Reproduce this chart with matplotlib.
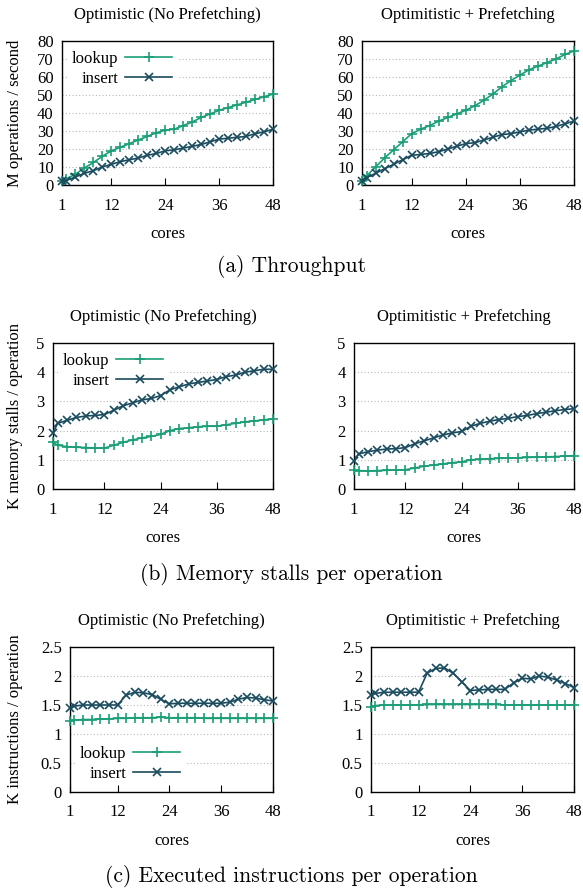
import matplotlib
matplotlib.use("Agg")
import matplotlib.pyplot as plt

cores = [1] + list(range(2, 49, 2))

thr_nopf_lookup = [2, 3.5, 6, 9.5, 12.5, 16, 19, 21, 23, 25, 27, 29, 30.5, 31, 33, 35,
                   37.5, 39.5, 41.5, 43, 44.5, 46, 47.5, 49, 50.5]
thr_nopf_insert = [2, 2.5, 4.5, 6.5, 8, 10, 11.5, 13, 14, 15, 16.5, 17.5, 19, 19.5, 20.5,
                   21.5, 22.5, 24, 25.5, 26, 26.5, 27, 28.5, 29.5, 31]
thr_pf_lookup = [2, 5, 10, 15, 19.5, 24, 28.5, 31, 33, 35.5, 37.5, 39.5, 41.5, 44, 47,
                 50.5, 54.5, 58, 61, 64, 66, 68, 70, 72.5, 74.5]
thr_pf_insert = [2.5, 4, 6.5, 9, 11.5, 14, 16.5, 17, 17.5, 18.5, 20, 21.5, 23, 23.5, 25,
                 26.5, 28, 28.5, 29.5, 30.5, 31, 31.5, 32.5, 34, 35.5]

st_nopf_lookup = [1.6, 1.5, 1.45, 1.43, 1.42, 1.4, 1.4, 1.5, 1.6, 1.68, 1.75, 1.8, 1.87,
                  2.0, 2.07, 2.1, 2.13, 2.15, 2.15, 2.2, 2.25, 2.3, 2.33, 2.37, 2.4]
st_nopf_insert = [1.93, 2.25, 2.35, 2.45, 2.5, 2.52, 2.55, 2.7, 2.85, 2.95, 3.05, 3.1, 3.2,
                  3.4, 3.5, 3.6, 3.65, 3.7, 3.75, 3.85, 3.9, 4.0, 4.05, 4.1, 4.1]
st_pf_lookup = [0.65, 0.63, 0.62, 0.63, 0.64, 0.65, 0.66, 0.72, 0.78, 0.82, 0.86, 0.9, 0.93,
                1.0, 1.02, 1.04, 1.05, 1.06, 1.07, 1.08, 1.09, 1.1, 1.11, 1.13, 1.14]
st_pf_insert = [0.95, 1.2, 1.28, 1.33, 1.37, 1.38, 1.42, 1.55, 1.65, 1.75, 1.85, 1.92, 1.97,
                2.15, 2.25, 2.32, 2.38, 2.42, 2.48, 2.52, 2.58, 2.63, 2.68, 2.72, 2.75]

in_nopf_lookup = [1.22, 1.24, 1.25, 1.25, 1.26, 1.26, 1.27, 1.27, 1.28, 1.28, 1.28, 1.29,
                  1.28, 1.28, 1.28, 1.28, 1.27, 1.27, 1.27, 1.27, 1.27, 1.27, 1.27, 1.27, 1.27]
in_nopf_insert = [1.45, 1.48, 1.5, 1.5, 1.5, 1.5, 1.5, 1.67, 1.72, 1.71, 1.68, 1.6, 1.52,
                  1.53, 1.53, 1.53, 1.53, 1.53, 1.53, 1.55, 1.6, 1.63, 1.62, 1.59, 1.57]
in_pf_lookup = [1.47, 1.49, 1.5, 1.5, 1.5, 1.5, 1.5, 1.51, 1.51, 1.51, 1.51, 1.51, 1.51,
                1.51, 1.51, 1.51, 1.5, 1.5, 1.5, 1.5, 1.5, 1.5, 1.5, 1.5, 1.5]
in_pf_insert = [1.68, 1.7, 1.72, 1.72, 1.72, 1.72, 1.72, 2.05, 2.13, 2.14, 2.05, 1.9, 1.75,
                1.76, 1.77, 1.77, 1.77, 1.88, 1.96, 1.95, 2.0, 1.98, 1.93, 1.87, 1.8]

xticks = [1, 12, 24, 36, 48]
titles_left = ["Optimistic (No Prefetching)"] * 3
titles_right = ["Optimitistic + Prefetching", "Optimitistic + Prefetching", "Optimitistic + Prefetching"]
ylabels = ["M operations / second", "K memory stalls / operation", "K instructions / operation"]
yticks = [[0, 10, 20, 30, 40, 50, 60, 70, 80], [0, 1, 2, 3, 4, 5], [0, 0.5, 1, 1.5, 2, 2.5]]
yticklabels = [[str(v) for v in yticks[0]], [str(v) for v in yticks[1]],
               ["0", "0.5", "1", "1.5", "2", "2.5"]]
captions = ["(a) Throughput", "(b) Memory stalls per operation",
            "(c) Executed instructions per operation"]

GREEN = "#1b9e77"
DARK = "#1a4b5e"
SERIF = ["Liberation Serif", "DejaVu Serif"]
FS = 12

W, H = 583, 890
fig = plt.figure(figsize=(W / 100, H / 100), dpi=100)

def add_ax(x0, x1, y0, y1):
    return fig.add_axes([x0 / W, 1 - y1 / H, (x1 - x0) / W, (y1 - y0) / H])

boxes = [
    [(62, 273, 41, 185), (362, 574, 41, 185)],
    [(53, 273, 343, 489), (354, 574, 343, 489)],
    [(70, 273, 647, 792), (371, 574, 647, 792)],
]
data = [
    [(thr_nopf_lookup, thr_nopf_insert), (thr_pf_lookup, thr_pf_insert)],
    [(st_nopf_lookup, st_nopf_insert), (st_pf_lookup, st_pf_insert)],
    [(in_nopf_lookup, in_nopf_insert), (in_pf_lookup, in_pf_insert)],
]
caption_y = [266, 575, 877]
YLABEL_X = 15

for r in range(3):
    for c in range(2):
        x0, x1, y0, y1 = boxes[r][c]
        ax = add_ax(x0, x1, y0, y1)
        lk, ins = data[r][c]
        ax.plot(cores, lk, color=GREEN, lw=1.2, marker="+", ms=6.5, mew=1.2, label="lookup",
                zorder=3, clip_on=False)
        ax.plot(cores, ins, color=DARK, lw=1.2, marker="x", ms=5.5, mew=1.2, label="insert",
                zorder=3, clip_on=False)
        ax.set_xlim(1, 48)
        ax.set_ylim(yticks[r][0], yticks[r][-1])
        ax.set_xticks(xticks)
        ax.set_xticklabels([str(v) for v in xticks], family=SERIF, fontsize=FS)
        ax.set_yticks(yticks[r])
        ax.set_yticklabels(yticklabels[r], family=SERIF, fontsize=FS)
        ax.tick_params(axis="x", direction="in", length=5, width=0.8, pad=9)
        ax.tick_params(axis="y", direction="in", length=0, pad=6)
        for v in yticks[r][1:-1]:
            ax.axhline(v, color="#b8b8b8", lw=0.8, ls=(0, (1, 2)), zorder=0)
        for s in ax.spines.values():
            s.set_linewidth(1.0)
        ax.set_xlabel("cores", family=SERIF, fontsize=FS, labelpad=9)
        ax.set_title(titles_left[r] if c == 0 else titles_right[r], family=SERIF,
                     fontsize=FS, pad=16)
        if c == 0:
            ax.set_ylabel(ylabels[r], family=SERIF, fontsize=FS, va="center")
            ax.yaxis.set_label_coords((YLABEL_X - x0) / (x1 - x0), 0.5)
            loc = "upper left" if r < 2 else "lower left"
            anchor = (0.0, 1.0) if r < 2 else (0.0, 0.0)
            leg = ax.legend(loc=loc, bbox_to_anchor=anchor, markerfirst=False,
                            prop={"family": SERIF, "size": FS}, handlelength=2.8,
                            frameon=True, fancybox=False, borderpad=0.3,
                            labelspacing=0.25, handletextpad=0.4, borderaxespad=0.3)
            leg.set_zorder(1)
            fr = leg.get_frame()
            fr.set_facecolor("white")
            fr.set_edgecolor("none")
            fr.set_alpha(1)
            for t in leg.get_texts():
                t.set_ha("right")
    fig.text(0.5, 1 - caption_y[r] / H, captions[r], ha="center", va="center",
             family=["cmr10", "DejaVu Serif"], fontsize=15.5)

fig.savefig("out.png", dpi=100)
